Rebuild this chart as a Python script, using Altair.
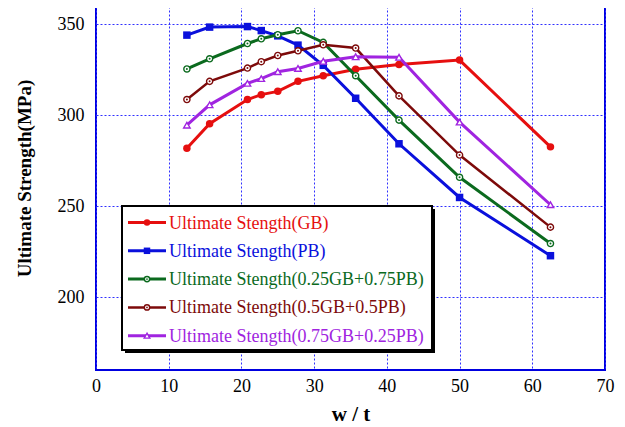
import altair as alt
import pandas as pd

# ---- data ----
wt = [12.5, 15.625, 20.83, 22.73, 25.0, 27.78, 31.25, 35.71, 41.67, 50.0, 62.5]
gb = [281.8, 295.3, 308.6, 311.3, 313.1, 318.6, 321.7, 325.2, 327.9, 330.3, 282.6]
pb = [344.0, 348.4, 348.7, 346.5, 343.6, 338.5, 327.4, 309.3, 284.3, 254.8, 222.8]
g25 = [325.4, 331.0, 339.4, 342.0, 344.2, 346.4, 340.0, 321.7, 297.3, 265.9, 229.5]
g50 = [308.6, 318.6, 325.9, 329.4, 332.8, 335.4, 338.7, 336.9, 310.6, 278.1, 238.5]
g75 = [294.5, 305.7, 317.5, 320.1, 323.9, 325.7, 329.6, 332.1, 331.8, 296.2, 250.8]

names = [
    "Ultimate Stength(GB)",
    "Ultimate Stength(PB)",
    "Ultimate Stength(0.25GB+0.75PB)",
    "Ultimate Stength(0.5GB+0.5PB)",
    "Ultimate Stength(0.75GB+0.25PB)",
]
series = [gb, pb, g25, g50, g75]
colors = ["#e60f0f", "#0a10dc", "#0b6a1e", "#7d0a0a", "#a024e0"]
shapes = ["circle", "square", "circle", "circle", "triangle-up"]
filled = [True, True, False, False, False]
dotted = [False, False, True, True, False]
sizes = [56, 56, 38, 38, 42]
widths = [3, 3, 3, 2.5, 3]

FONT = "Liberation Serif"

xscale = alt.Scale(domain=[0, 70], nice=False, zero=False)
yscale = alt.Scale(domain=[160, 360], nice=False, zero=False)

xaxis = alt.Axis(
    values=[0, 10, 20, 30, 40, 50, 60, 70], title="w / t",
    labelFlush=False, labelOverlap=False, ticks=False, labelPadding=7,
    titleFontSize=21, titlePadding=8, domain=False,
)
yaxis = alt.Axis(
    values=[200, 250, 300, 350], title="Ultimate Strength(MPa)",
    labelFlush=False, labelOverlap=False, ticks=False, labelPadding=12,
    titleFontSize=19, titleX=-72, titleY=172, titleBaseline="middle",
    titleAlign="center", domain=False,
)

layers = []
for i, (name, vals) in enumerate(zip(names, series)):
    df = pd.DataFrame({"wt": wt, "val": vals, "series": name})
    base = alt.Chart(df).encode(
        x=alt.X("wt:Q", scale=xscale, axis=xaxis),
        y=alt.Y("val:Q", scale=yscale, axis=yaxis),
    )
    line = base.mark_line(color=colors[i], strokeWidth=widths[i])
    pts = base.mark_point(
        shape=shapes[i], size=sizes[i], filled=filled[i],
        color=colors[i], fill=colors[i] if filled[i] else "white",
        stroke=colors[i], strokeWidth=0 if filled[i] else 1.4, opacity=1,
        fillOpacity=1,
    )
    layers += [line, pts]
    if dotted[i]:
        layers.append(base.mark_point(shape="circle", size=4, filled=True,
                                      color=colors[i], opacity=1))

# ---- legend box (drawn by hand, colored labels) ----
one = pd.DataFrame({"k": [0]})
bx1, bx2, by1, by2 = 26, 336, 200, 344  # pixel frame within plot group
layers.append(alt.Chart(one).mark_rect(color="black").encode(
    x=alt.value(bx1 + 3), x2=alt.value(bx2 + 3),
    y=alt.value(by1 + 3), y2=alt.value(by2 + 3)))
layers.append(alt.Chart(one).mark_rect(fill="white", stroke="black", strokeWidth=2).encode(
    x=alt.value(bx1), x2=alt.value(bx2),
    y=alt.value(by1), y2=alt.value(by2)))

row0, step = 216.5, 28.3
for i, name in enumerate(names):
    yy = row0 + i * step
    layers.append(alt.Chart(one).mark_rule(color=colors[i], strokeWidth=widths[i]).encode(
        x=alt.value(32), x2=alt.value(70), y=alt.value(yy)))
    layers.append(alt.Chart(one).mark_point(
        shape=shapes[i], size=sizes[i] * 0.75, filled=filled[i], color=colors[i],
        fill=colors[i] if filled[i] else "white", stroke=colors[i],
        strokeWidth=0 if filled[i] else 1.4, opacity=1, fillOpacity=1,
    ).encode(x=alt.value(51), y=alt.value(yy)))
    if dotted[i]:
        layers.append(alt.Chart(one).mark_point(shape="circle", size=3, filled=True,
                                                color=colors[i], opacity=1).encode(
            x=alt.value(51), y=alt.value(yy)))
    layers.append(alt.Chart(one).mark_text(
        text=name, color=colors[i], font=FONT, fontSize=18, align="left",
        baseline="middle").encode(x=alt.value(73), y=alt.value(yy + 1)))

chart = alt.layer(*layers).properties(
    width=509, height=364,
    background="white",
    autosize=alt.AutoSizeParams(type="none"),
    padding={"left": 88, "top": -2, "right": 10, "bottom": 60},
).configure_view(
    stroke="#0000e0", strokeWidth=2
).configure_axis(
    labelFont=FONT, labelFontSize=18, labelColor="black",
    titleFont=FONT, titleFontWeight="bold", titleColor="black",
    grid=True, gridColor="#3030ff", gridDash=[2, 2], gridWidth=1, gridOpacity=1,
)

chart.save("out.html", embed_options={"renderer": "svg", "actions": False})
